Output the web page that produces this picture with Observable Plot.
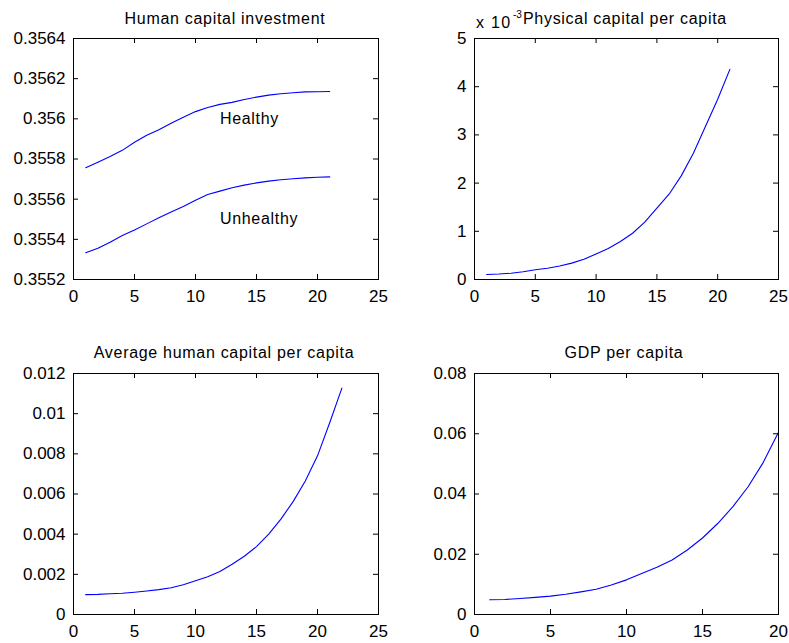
<!DOCTYPE html>
<html><head><meta charset="utf-8">
<script src="https://cdn.jsdelivr.net/npm/d3@7"></script>
<script src="https://cdn.jsdelivr.net/npm/@observablehq/plot@0.6"></script>
<style>
body{margin:0;background:#fff;}
#root{position:relative;width:789px;height:643px;overflow:hidden;background:#fff;font-family:"Liberation Sans",Arial,sans-serif;color:#000;}
.panel{position:absolute;}
.title{position:absolute;font-size:16px;letter-spacing:0.7px;line-height:16px;white-space:nowrap;color:#000;}
.center{transform:translateX(-50%);}
.sup{position:absolute;font-size:10px;line-height:10px;white-space:nowrap;}
.lbl text{letter-spacing:0.7px;}
</style></head><body><div id="root"></div>
<script>
// ---------- data ----------
const periods21 = [1,2,3,4,5,6,7,8,9,10,11,12,13,14,15,16,17,18,19,20,21];
const periods22 = [1,2,3,4,5,6,7,8,9,10,11,12,13,14,15,16,17,18,19,20,21,22];
const periods20 = [1,2,3,4,5,6,7,8,9,10,11,12,13,14,15,16,17,18,19,20];

const investHealthy = [0.355757,0.355784,0.355812,0.355843,0.355883,0.355918,0.355946,0.355978,0.356008,0.356036,0.356056,0.356072,0.356082,0.356096,0.356108,0.356118,0.356125,0.356130,0.356134,0.356135,0.356136];
const investUnhealthy = [0.355333,0.355356,0.355385,0.355419,0.355446,0.355477,0.355507,0.355536,0.355563,0.355595,0.355623,0.355640,0.355657,0.355670,0.355681,0.355690,0.355697,0.355702,0.355706,0.355709,0.355711];
const groupLabels = ["Healthy","Unhealthy"];
const groupLabelX = [12, 12];
const groupLabelY = [0.3560, 0.3555];

// physical capital per capita, in units of 10^-3
const physicalCapitalE3 = [0.104,0.113,0.130,0.160,0.203,0.232,0.280,0.340,0.420,0.530,0.645,0.790,0.960,1.190,1.480,1.770,2.150,2.620,3.180,3.740,4.360];

const humanCapital = [0.00099,0.00100,0.00103,0.00106,0.00111,0.00117,0.00124,0.00133,0.00148,0.00168,0.00188,0.00214,0.00250,0.00290,0.00338,0.00400,0.00475,0.00562,0.00665,0.00790,0.00955,0.01127];

const gdp = [0.0049,0.0050,0.0053,0.0057,0.0061,0.0067,0.0075,0.0084,0.0098,0.0115,0.0136,0.0157,0.0181,0.0214,0.0254,0.0302,0.0358,0.0424,0.0505,0.0605];

const xTicks25 = [0,5,10,15,20,25];
const xTicks20 = [0,5,10,15,20];
const yTicksInvest = [0.3552,0.3554,0.3556,0.3558,0.356,0.3562,0.3564];
const yTicksPhysical = [0,1,2,3,4,5];
const yTicksHuman = [0,0.002,0.004,0.006,0.008,0.01,0.012];
const yTicksGdp = [0,0.02,0.04,0.06,0.08];

const titles = ["Human capital investment","Physical capital per capita","Average human capital per capita","GDP per capita"];

// ---------- drawing ----------
const root = document.getElementById("root");
const fmt = d => String(d);
const TICK = 5;

function panel({left, top, width, height, mL, mR, mT, mB, xTicks, yTicks, lines, extra = []}) {
  const innerW = width - mL - mR;
  const innerH = height - mT - mB;
  const chart = Plot.plot({
    width, height,
    marginLeft: mL, marginRight: mR, marginTop: mT, marginBottom: mB,
    style: {fontSize: "17px", fontFamily: '"Liberation Sans", Arial, sans-serif', color: "black", background: "transparent", overflow: "visible"},
    x: {domain: [xTicks[0], xTicks[xTicks.length-1]]},
    y: {domain: [yTicks[0], yTicks[yTicks.length-1]]},
    marks: [
      Plot.axisX(xTicks, {anchor: "bottom", tickSize: 0, tickPadding: 10, tickFormat: fmt, label: null, fill: "black"}),
      Plot.axisY(yTicks, {anchor: "left", tickSize: 0, tickPadding: 8, tickFormat: fmt, label: null, fill: "black"}),
      // inward ticks on all four sides
      Plot.ruleX(xTicks, {x: d => d, insetTop: innerH - TICK, stroke: "black"}),
      Plot.ruleX(xTicks, {x: d => d, insetBottom: innerH - TICK, stroke: "black"}),
      Plot.ruleY(yTicks, {y: d => d, insetRight: innerW - TICK, stroke: "black"}),
      Plot.ruleY(yTicks, {y: d => d, insetLeft: innerW - TICK, stroke: "black"}),
      ...lines.map(l => Plot.line(l.y, {x: (d, i) => l.x[i], y: d => d, stroke: "#0000ff", strokeWidth: 1.1})),
      ...extra,
      Plot.frame({stroke: "black", strokeWidth: 1})
    ]
  });
  chart.classList.add("panel");
  chart.style.left = left + "px";
  chart.style.top = top + "px";
  root.appendChild(chart);
}

function title(text, cx, top) {
  const d = document.createElement("div");
  d.className = "title center";
  d.textContent = text;
  d.style.left = cx + "px";
  d.style.top = top + "px";
  root.appendChild(d);
  return d;
}

// Panel 1
panel({left: 0, top: 0, width: 395, height: 320, mL: 73, mR: 17, mT: 38, mB: 41,
  xTicks: xTicks25, yTicks: yTicksInvest,
  lines: [{x: periods21, y: investHealthy}, {x: periods21, y: investUnhealthy}],
  extra: [Plot.text(groupLabels, {x: (d, i) => groupLabelX[i], y: (d, i) => groupLabelY[i], text: d => d, textAnchor: "start", fontSize: 16, fill: "black", className: "lbl"})]
});
title(titles[0], 225, 11);

// Panel 2
panel({left: 395, top: 0, width: 394, height: 320, mL: 79, mR: 11, mT: 38, mB: 41,
  xTicks: xTicks25, yTicks: yTicksPhysical,
  lines: [{x: periods21, y: physicalCapitalE3}]
});
{
  const d = document.createElement("div");
  d.className = "title"; d.textContent = "x 10"; d.style.left = "476px"; d.style.top = "15px";
  d.style.letterSpacing = "1.3px";
  root.appendChild(d);
  const s = document.createElement("div");
  s.className = "sup"; s.textContent = "-3"; s.style.left = "513px"; s.style.top = "10px";
  root.appendChild(s);
  const t = document.createElement("div");
  t.className = "title"; t.textContent = titles[1]; t.style.left = "523px"; t.style.top = "11px";
  root.appendChild(t);
}

// Panel 3
panel({left: 0, top: 330, width: 395, height: 313, mL: 73, mR: 17, mT: 43, mB: 29,
  xTicks: xTicks25, yTicks: yTicksHuman,
  lines: [{x: periods22, y: humanCapital}]
});
title(titles[2], 224, 345);

// Panel 4
panel({left: 395, top: 330, width: 394, height: 313, mL: 79, mR: 11, mT: 43, mB: 29,
  xTicks: xTicks20, yTicks: yTicksGdp,
  lines: [{x: periods20, y: gdp}]
});
title(titles[3], 624, 345);
</script>
</body></html>
